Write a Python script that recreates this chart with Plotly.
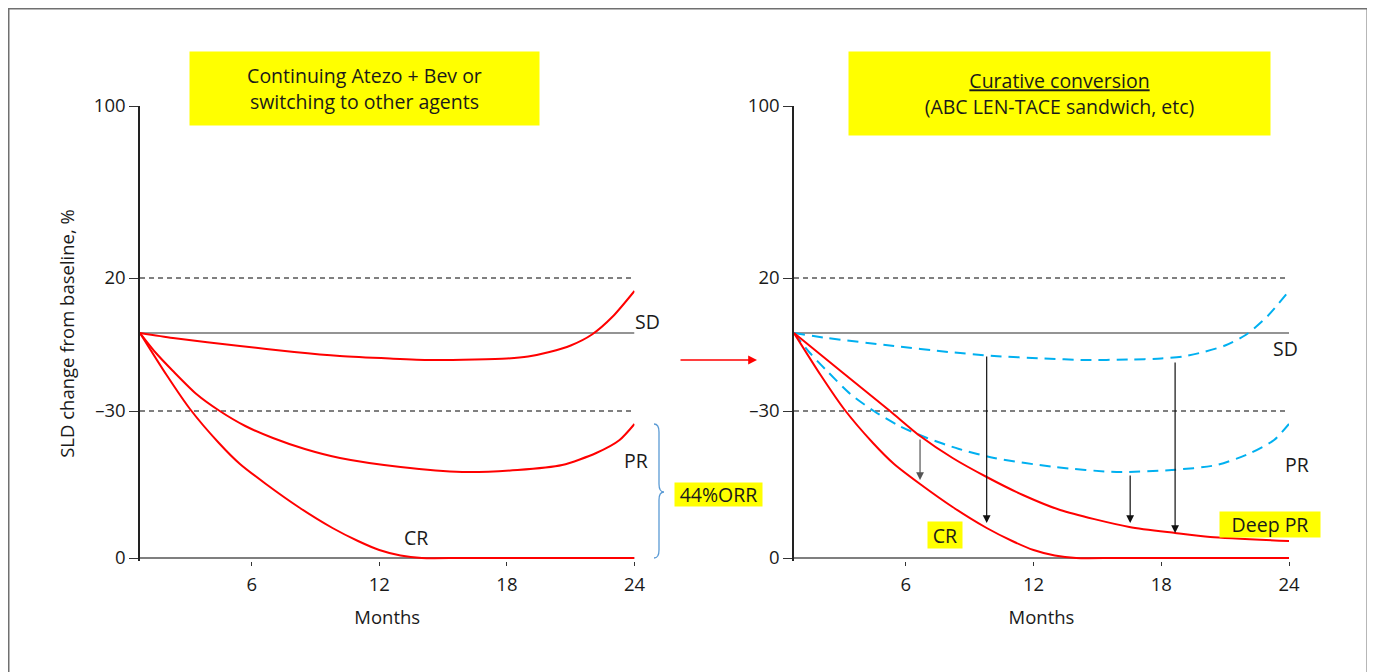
import plotly.graph_objects as go

# The page body has an 8 px margin, so the figure is sized to fill the rest of the window.
OFF = 8
W, H = 1375 - OFF, 672 - OFF
FONT = "Open Sans"

# ---------------- data (schematic units: baseline = 0) ----------------
sd_months = [0.75, 2.3, 5.45, 8.0, 10.15, 12.5, 14.4, 16.5, 18.0, 19.0, 20.0, 21.0, 22.0, 23.0, 24.0]
sd_values = [0, -5, -13, -19, -23, -25.5, -27, -26.5, -25.5, -23.5, -19, -12.5, -1.5, 17, 42]

pr_months = [0.75, 1.5, 2.3, 3.4, 4.5, 5.7, 7.0, 8.5, 10.15, 13.0, 15.9, 18.5, 20.6, 22.2, 23.3, 24.0]
pr_values = [0, -20, -38, -61, -78, -93, -105, -116, -125, -134, -139, -137, -132, -120, -107, -91]

cr_months = [0.75, 2.0, 3.1, 4.46, 5.45, 6.67, 8.2, 9.8, 11.0, 12.0, 13.0, 14.0, 16.0, 24.0]
cr_values = [0, -42, -76, -110, -131, -151, -174, -195, -208, -217, -222.5, -225, -225, -225]

deep_pr_months = [0.75, 3.0, 5.26, 6.67, 8.2, 9.8, 11.5, 13.25, 16.5, 18.65, 20.3, 24.0]
deep_pr_values = [0, -39, -78, -103, -125, -144, -162, -177, -194, -200, -204, -208]

arrow_months = [6.67, 9.8, 16.54, 18.65]
arrow_from = [-105, -22, -141, -28]
arrow_to = [-147, -190, -190, -200]
arrow_colors = ["#555555", "#111111", "#111111", "#111111"]

x_range = [0.75, 24]
x_ticks = [6, 12, 18, 24]
y_bottom = -225
y_top = 227
y_range = [y_bottom - 3, y_top]          # small pad so the CR line at the floor is not clipped
y_tick_pos = [227, 55, -78, -225]
y_tick_text = ["100", "20", "\u201330", "0"]
baseline = [0]
thresholds = [55, -78]   # +20 % and -30 % reference lines

RED = "#ff0000"
BLUE = "#00b0f0"
YELLOW = "#ffff00"
TXT = "#1a1a1a"
FS = 18.5      # axis text size
FS_BOX = 19.5  # annotation text size


def px_x(p):
    return (p - OFF) / W


def px_y(p):
    return 1 - (p - OFF) / H


fig = go.Figure()

# axis floor line, baseline and reference lines in both panels
for xa, ya in [("x", "y"), ("x2", "y2")]:
    fig.add_trace(go.Scatter(x=x_range, y=[y_bottom, y_bottom], mode="lines", xaxis=xa, yaxis=ya,
                             line=dict(color="#555555", width=1.5), hoverinfo="skip"))
    for b in baseline:
        fig.add_trace(go.Scatter(x=x_range, y=[b, b], mode="lines", xaxis=xa, yaxis=ya,
                                 line=dict(color="#707070", width=1.5), hoverinfo="skip"))
    for t in thresholds:
        fig.add_trace(go.Scatter(x=x_range, y=[t, t], mode="lines", xaxis=xa, yaxis=ya,
                                 line=dict(color="#000000", width=1, dash="5px,4px"),
                                 hoverinfo="skip"))

SPL = dict(shape="spline", smoothing=0.7)
# left panel curves
for mx, vy in [(sd_months, sd_values), (pr_months, pr_values), (cr_months, cr_values)]:
    fig.add_trace(go.Scatter(x=mx, y=vy, mode="lines", xaxis="x", yaxis="y",
                             line=dict(color=RED, width=2, **SPL), cliponaxis=False))

# right panel curves
for mx, vy in [(sd_months, sd_values), (pr_months, pr_values)]:
    fig.add_trace(go.Scatter(x=mx, y=vy, mode="lines", xaxis="x2", yaxis="y2",
                             line=dict(color=BLUE, width=2, dash="11px,7px", **SPL),
                             cliponaxis=False))
for mx, vy in [(cr_months, cr_values), (deep_pr_months, deep_pr_values)]:
    fig.add_trace(go.Scatter(x=mx, y=vy, mode="lines", xaxis="x2", yaxis="y2",
                             line=dict(color=RED, width=2, **SPL), cliponaxis=False))

axis_common = dict(range=x_range, tickvals=x_ticks, ticks="outside", ticklen=4,
                   tickcolor="#333", tickwidth=1.2, showline=False,
                   showgrid=False, zeroline=False, automargin=False,
                   ticklabelstandoff=3,
                   tickfont=dict(size=FS, color=TXT, family=FONT),
                   title=dict(text="Months", font=dict(size=FS, color=TXT, family=FONT), standoff=15))
yaxis_common = dict(range=y_range, tickvals=y_tick_pos, ticktext=y_tick_text, ticks="outside",
                    ticklen=9, tickcolor="#333", showline=True, linecolor="#222", linewidth=1.5,
                    showgrid=False, zeroline=False, automargin=False, layer="below traces",
                    tickfont=dict(size=FS, color=TXT, family=FONT))

# 1 data unit = 1 px vertically; the floor value -225 sits at 558 px
ydom = [px_y(558 + 3), px_y(106)]
fig.update_layout(
    template="none",
    width=W, height=H, autosize=False,
    margin=dict(l=0, r=0, t=0, b=0, pad=0, autoexpand=False),
    paper_bgcolor="white", plot_bgcolor="white",
    showlegend=False,
    font=dict(family=FONT, color=TXT, size=FS),
    xaxis=dict(domain=[px_x(140), px_x(634.5)], anchor="y", **axis_common),
    xaxis2=dict(domain=[px_x(794), px_x(1289)], anchor="y2", **axis_common),
    yaxis=dict(domain=ydom, anchor="x",
               title=dict(text="SLD change from baseline, %",
                          font=dict(size=FS, color=TXT, family=FONT), standoff=14),
               **yaxis_common),
    yaxis2=dict(domain=ydom, anchor="x2", **yaxis_common),
)

annotations = []
# arrows in the right panel
for m, a0, a1, c in zip(arrow_months, arrow_from, arrow_to, arrow_colors):
    annotations.append(dict(x=m, y=a1, ax=m, ay=a0, xref="x2", yref="y2", axref="x2", ayref="y2",
                            text="", showarrow=True, arrowhead=2, arrowsize=1.3,
                            arrowwidth=1.2, arrowcolor=c, standoff=0))

# red arrow between panels
annotations.append(dict(x=px_x(757), y=px_y(360), xref="paper", yref="paper", ax=-78, ay=0,
                        text="", showarrow=True, arrowhead=2, arrowsize=1.1, arrowwidth=1.6,
                        arrowcolor=RED, standoff=0))


def label(text, cx, cy, bg=None, w=None, h=None, size=FS_BOX):
    d = dict(text=text, x=px_x(cx), y=px_y(cy), xref="paper", yref="paper",
             xanchor="center", yanchor="middle", showarrow=False,
             font=dict(size=size, color=TXT, family=FONT), borderpad=0)
    if bg:
        d["bgcolor"] = bg
    if w:
        d["width"] = w
    if h:
        d["height"] = h
    annotations.append(d)


label("Continuing Atezo + Bev or<br>switching to other agents", 364.5, 88.5, YELLOW, 349, 73)
label("<u>Curative conversion</u><br>(ABC LEN-TACE sandwich, etc)", 1059.5, 93.5, YELLOW, 421, 83)
label("SD", 647, 321)
label("PR", 636, 460)
label("CR", 416, 537)
label("44%ORR", 718.5, 494.5, YELLOW, 87, 23)
label("SD", 1285, 348)
label("PR", 1297, 464)
label("Deep PR", 1270, 524.5, YELLOW, 100, 25)
label("CR", 945, 535, YELLOW, 34, 26)

fig.update_layout(annotations=annotations)

# outer frame and blue brace
brace = (f"M {px_x(654)},{px_y(424)} Q {px_x(659)},{px_y(424)} {px_x(659)},{px_y(432)} "
         f"L {px_x(659)},{px_y(484)} Q {px_x(659)},{px_y(492)} {px_x(664)},{px_y(492)} "
         f"Q {px_x(659)},{px_y(492)} {px_x(659)},{px_y(500)} "
         f"L {px_x(659)},{px_y(550)} Q {px_x(659)},{px_y(558)} {px_x(654)},{px_y(558)}")
fig.update_layout(shapes=[
    dict(type="rect", xref="paper", yref="paper", x0=0, x1=px_x(1368),
         y0=-0.05, y1=1, line=dict(color="#707070", width=3), fillcolor="rgba(0,0,0,0)"),
    dict(type="path", xref="paper", yref="paper", path=brace,
         line=dict(color="#5b9bd5", width=1.3)),
])

fig.write_html("out.html")
